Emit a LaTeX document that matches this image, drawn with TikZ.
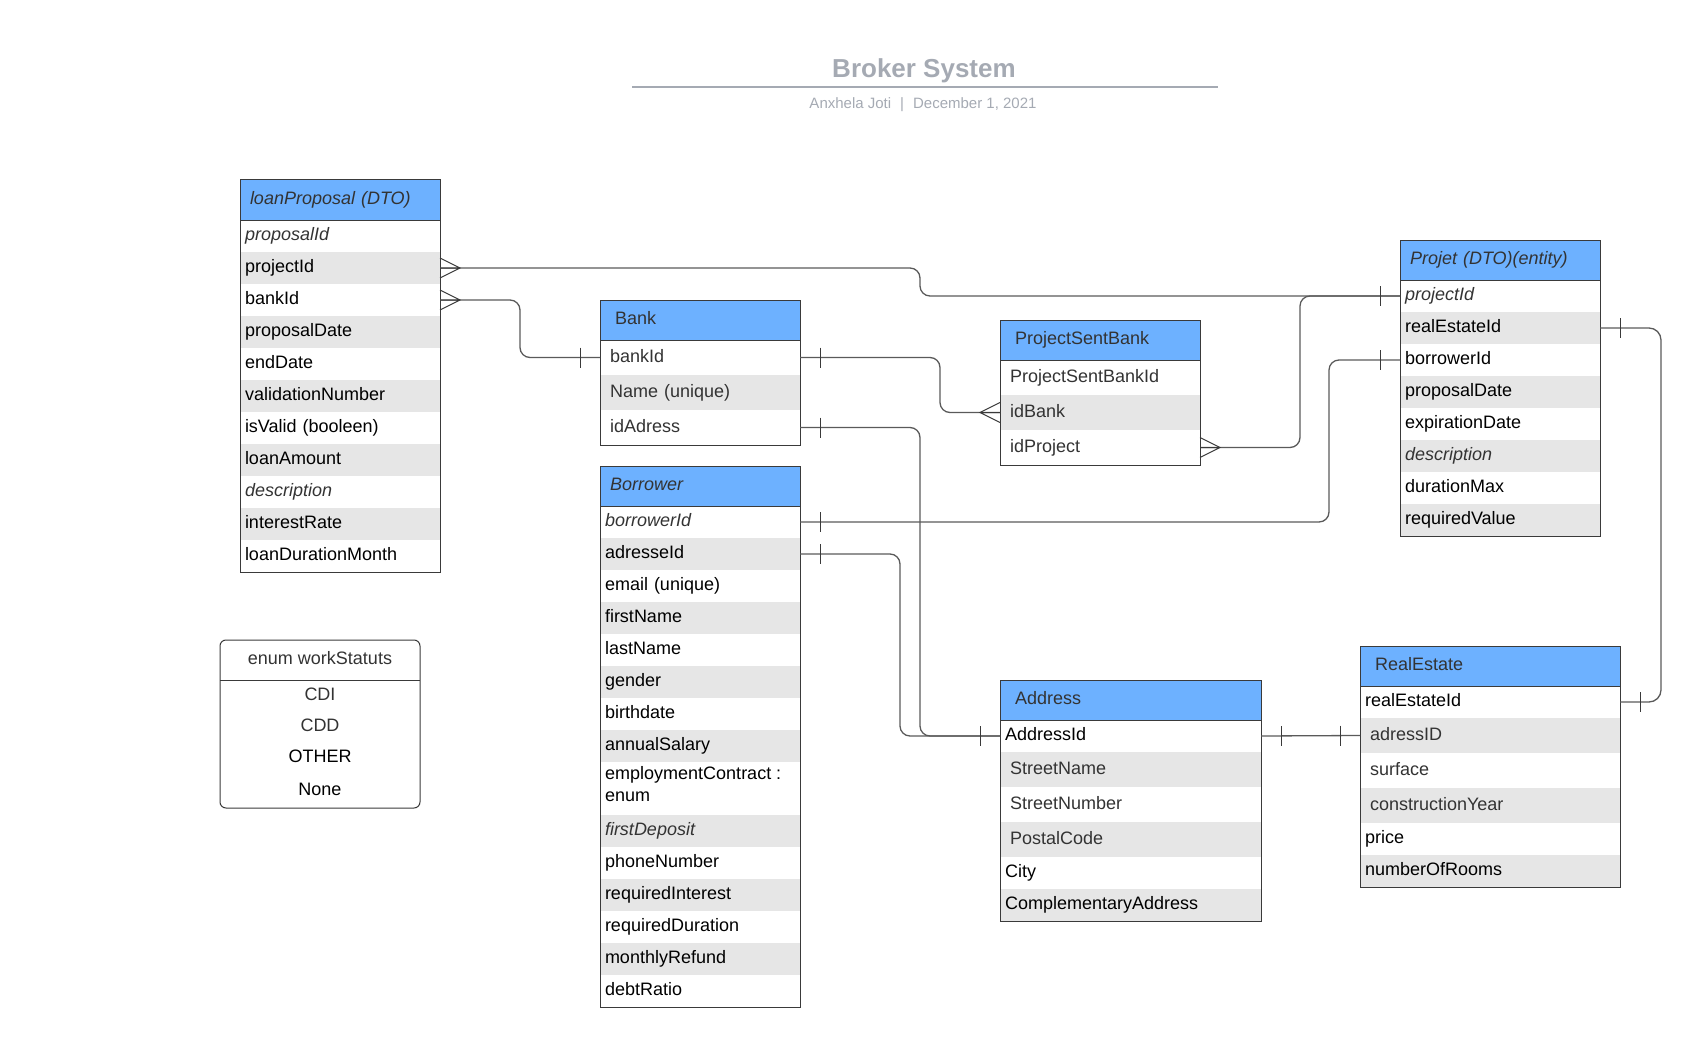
\documentclass[tikz,border=0pt]{standalone}
\usepackage{fontspec}
\setmainfont{Liberation Sans}
\usetikzlibrary{calc}
\definecolor{hblue}{HTML}{6DB1FF}
\definecolor{rowgrey}{HTML}{E6E6E6}
\definecolor{tdark}{HTML}{333333}
\definecolor{bcol}{HTML}{3A3A3A}
\definecolor{conncol}{HTML}{5A5A5A}
\definecolor{titlecol}{HTML}{A5AAB3}
\newcommand\rowfont{\fontsize{18}{21}\selectfont}
\newcommand\crowR[1]{\draw[tickline] ($(#1)+(0,-10)$) -- ($(#1)+(20,0)$) -- ($(#1)+(0,10)$) (#1) -- ($(#1)+(20,0)$);}
\newcommand\crowL[1]{\draw[tickline] ($(#1)+(0,-10)$) -- ($(#1)+(-20,0)$) -- ($(#1)+(0,10)$) (#1) -- ($(#1)+(-20,0)$);}
\newcommand\tickX[2]{\draw[tickline] ($(#1)+(#2,-10)$) -- ($(#1)+(#2,10)$);}
\begin{document}
\begin{tikzpicture}[x=1pt,y=-1pt,
  cellbase/.style={anchor=north west, inner ysep=0pt, outer sep=0pt, align=left, font=\rowfont, text=black},
  cell/.style={cellbase, text height=13pt, text depth=4pt},
  hd/.style={cell, fill=hblue, minimum height=40pt, text=tdark},
  r32/.style={cell, minimum height=32pt},
  r35/.style={cell, minimum height=35pt},
  gr/.style={fill=rowgrey},
  it/.style={font=\rowfont\itshape, text=tdark},
  dk/.style={text=tdark},
  wa/.style={text width=190pt, inner xsep=5pt},
  wb/.style={text width=180pt, inner xsep=10pt},
  wc/.style={text width=170pt, inner xsep=15pt},
  boxline/.style={draw=bcol, line width=1pt},
  conn/.style={draw=conncol, line width=1.3pt, rounded corners=10pt},
  tickline/.style={draw=bcol, line width=1pt},
  etext/.style={anchor=base, font=\rowfont, inner sep=0pt}
]
\useasboundingbox (0,0) rectangle (1701,1046);

% ---------- title ----------
\node[anchor=base, inner sep=0pt, font=\fontsize{26}{30}\selectfont\bfseries, text=titlecol] (title) at (924,77.7) {Broker System};
\draw[titlecol, line width=2pt] (632,87.5) -- (1218,87.5);
\node[anchor=base, inner sep=0pt, font=\fontsize{15}{18}\selectfont, text=titlecol] (subtitle) at (923,108.3) {Anxhela Joti\hspace{9pt}|\hspace{9pt}December 1, 2021};

% ---------- loanProposal ----------
\node[hd, wb] (lp0) at (240,180) {\itshape loanProposal (DTO)};
\node[r32, wa, it] (lp1) at (lp0.south west) {proposalId};
\node[r32, wa, gr] (lp2) at (lp1.south west) {projectId};
\node[r32, wa] (lp3) at (lp2.south west) {bankId};
\node[r32, wa, gr] (lp4) at (lp3.south west) {proposalDate};
\node[r32, wa] (lp5) at (lp4.south west) {endDate};
\node[r32, wa, gr] (lp6) at (lp5.south west) {validationNumber};
\node[r32, wa] (lp7) at (lp6.south west) {isValid (booleen)};
\node[r32, wa, gr] (lp8) at (lp7.south west) {loanAmount};
\node[r32, wa, it] (lp9) at (lp8.south west) {description};
\node[r32, wa, gr] (lp10) at (lp9.south west) {interestRate};
\node[r32, wa] (lp11) at (lp10.south west) {loanDurationMonth};
\draw[boxline] (lp0.north west) rectangle (lp11.south east);
\draw[boxline] (lp0.south west) -- (lp0.south east);

% ---------- Bank ----------
\node[hd, wc] (bk0) at (600,300) {Bank};
\node[r35, wb, dk] (bk1) at (bk0.south west) {bankId};
\node[r35, wb, dk, gr] (bk2) at (bk1.south west) {Name (unique)};
\node[r35, wb, dk] (bk3) at (bk2.south west) {idAdress};
\draw[boxline] (bk0.north west) rectangle (bk3.south east);
\draw[boxline] (bk0.south west) -- (bk0.south east);

% ---------- Borrower ----------
\node[hd, wb] (bw0) at (600,466) {\itshape Borrower};
\node[r32, wa, it] (bw1) at (bw0.south west) {borrowerId};
\node[r32, wa, gr] (bw2) at (bw1.south west) {adresseId};
\node[r32, wa] (bw3) at (bw2.south west) {email (unique)};
\node[r32, wa, gr] (bw4) at (bw3.south west) {firstName};
\node[r32, wa] (bw5) at (bw4.south west) {lastName};
\node[r32, wa, gr] (bw6) at (bw5.south west) {gender};
\node[r32, wa] (bw7) at (bw6.south west) {birthdate};
\node[r32, wa, gr] (bw8) at (bw7.south west) {annualSalary};
\node[cellbase, wa, minimum height=53pt] (bw9) at (bw8.south west) {};
\node[anchor=base west, inner sep=0pt, font=\rowfont] (bw9a) at ($(bw9.north west)+(5,17.6)$) {employmentContract :};
\node[anchor=base west, inner sep=0pt, font=\rowfont] (bw9b) at ($(bw9a.base west)+(0,21.4)$) {enum};
\node[r32, wa, it, gr] (bw10) at (bw9.south west) {firstDeposit};
\node[r32, wa] (bw11) at (bw10.south west) {phoneNumber};
\node[r32, wa, gr] (bw12) at (bw11.south west) {requiredInterest};
\node[r32, wa] (bw13) at (bw12.south west) {requiredDuration};
\node[r32, wa, gr] (bw14) at (bw13.south west) {monthlyRefund};
\node[r32, wa] (bw15) at (bw14.south west) {debtRatio};
\draw[boxline] (bw0.north west) rectangle (bw15.south east);
\draw[boxline] (bw0.south west) -- (bw0.south east);

% ---------- ProjectSentBank ----------
\node[hd, wc] (ps0) at (1000,320) {ProjectSentBank};
\node[r35, wb, dk] (ps1) at (ps0.south west) {ProjectSentBankId};
\node[r35, wb, dk, gr] (ps2) at (ps1.south west) {idBank};
\node[r35, wb, dk] (ps3) at (ps2.south west) {idProject};
\draw[boxline] (ps0.north west) rectangle (ps3.south east);
\draw[boxline] (ps0.south west) -- (ps0.south east);

% ---------- Projet ----------
\node[hd, wb] (pj0) at (1400,240) {\itshape Projet (DTO)(entity)};
\node[r32, wa, it] (pj1) at (pj0.south west) {projectId};
\node[r32, wa, gr] (pj2) at (pj1.south west) {realEstateId};
\node[r32, wa] (pj3) at (pj2.south west) {borrowerId};
\node[r32, wa, gr] (pj4) at (pj3.south west) {proposalDate};
\node[r32, wa] (pj5) at (pj4.south west) {expirationDate};
\node[r32, wa, it, gr] (pj6) at (pj5.south west) {description};
\node[r32, wa] (pj7) at (pj6.south west) {durationMax};
\node[r32, wa, gr] (pj8) at (pj7.south west) {requiredValue};
\draw[boxline] (pj0.north west) rectangle (pj8.south east);
\draw[boxline] (pj0.south west) -- (pj0.south east);

% ---------- Address ----------
\node[hd, text width=231pt, inner xsep=15pt] (ad0) at (1000,680) {Address};
\node[r32, text width=251pt, inner xsep=5pt] (ad1) at (ad0.south west) {AddressId};
\node[r35, dk, gr, text width=241pt, inner xsep=10pt] (ad2) at (ad1.south west) {StreetName};
\node[r35, dk, text width=241pt, inner xsep=10pt] (ad3) at (ad2.south west) {StreetNumber};
\node[r35, dk, gr, text width=241pt, inner xsep=10pt] (ad4) at (ad3.south west) {PostalCode};
\node[r32, text width=251pt, inner xsep=5pt] (ad5) at (ad4.south west) {City};
\node[r32, gr, text width=251pt, inner xsep=5pt] (ad6) at (ad5.south west) {ComplementaryAddress};
\draw[boxline] (ad0.north west) rectangle (ad6.south east);
\draw[boxline] (ad0.south west) -- (ad0.south east);

% ---------- RealEstate ----------
\node[hd, text width=230pt, inner xsep=15pt] (re0) at (1360,646) {RealEstate};
\node[r32, text width=250pt, inner xsep=5pt] (re1) at (re0.south west) {realEstateId};
\node[r35, dk, gr, text width=240pt, inner xsep=10pt] (re2) at (re1.south west) {adressID};
\node[r35, dk, text width=240pt, inner xsep=10pt] (re3) at (re2.south west) {surface};
\node[r35, dk, gr, text width=240pt, inner xsep=10pt] (re4) at (re3.south west) {constructionYear};
\node[r32, text width=250pt, inner xsep=5pt] (re5) at (re4.south west) {price};
\node[r32, gr, text width=250pt, inner xsep=5pt] (re6) at (re5.south west) {numberOfRooms};
\draw[boxline] (re0.north west) rectangle (re6.south east);
\draw[boxline] (re0.south west) -- (re0.south east);

% ---------- enum ----------
\node[draw=bcol, line width=1pt, rounded corners=6pt, minimum width=200pt, minimum height=168pt, anchor=north west, inner sep=0pt, outer sep=0pt] (en) at (220,640) {};
\draw[boxline] ($(en.north west)+(0,40)$) -- ($(en.north east)+(0,40)$);
\node[etext, text=tdark] (en0) at (320,664.5) {enum workStatuts};
\node[etext, text=tdark] (en1) at (320,700) {CDI};
\node[etext, text=tdark] (en2) at (320,731.5) {CDD};
\node[etext] (en3) at (320,762.7) {OTHER};
\node[etext] (en4) at (320,795) {None};

% ---------- connectors ----------
\coordinate (xa) at (920,0);
\coordinate (xb) at (520,0);
\coordinate (xc) at (940,0);
\coordinate (xd) at (920,0);
\coordinate (xe) at (900,0);
\coordinate (xf) at (1329,0);
\coordinate (xg) at (1300,0);
\coordinate (xh) at (1661,0);

% loanProposal.projectId -> Projet.projectId
\draw[conn] (lp2.east) -- (lp2.east -| xa) -- (pj1.west -| xa) -- (pj1.west);
\crowR{lp2.east}
% loanProposal.bankId -> Bank.bankId
\draw[conn] (lp3.east) -- (lp3.east -| xb) -- (bk1.west -| xb) -- (bk1.west);
\crowR{lp3.east}
\tickX{bk1.west}{-20}
% Bank.bankId -> ProjectSentBank.idBank
\draw[conn] (bk1.east) -- (bk1.east -| xc) -- (ps2.west -| xc) -- (ps2.west);
\tickX{bk1.east}{20}
\crowL{ps2.west}
% Bank.idAdress -> Address.AddressId
\draw[conn] (bk3.east) -- (bk3.east -| xd) -- (ad1.west -| xd) -- (ad1.west);
\tickX{bk3.east}{20}
% Borrower.adresseId -> Address.AddressId
\draw[conn] (bw2.east) -- (bw2.east -| xe) -- (ad1.west -| xe) -- (ad1.west);
\tickX{bw2.east}{20}
\tickX{ad1.west}{-20}
% Borrower.borrowerId -> Projet.borrowerId
\draw[conn] (bw1.east) -- (bw1.east -| xf) -- (pj3.west -| xf) -- (pj3.west);
\tickX{bw1.east}{20}
\tickX{pj3.west}{-20}
% ProjectSentBank.idProject -> Projet.projectId
\draw[conn] (ps3.east) -- (ps3.east -| xg) -- (pj1.west -| xg) -- (pj1.west);
\crowR{ps3.east}
\tickX{pj1.west}{-20}
% Address.AddressId -> RealEstate.adressID
\draw[conn] (ad1.east) -- (re2.west);
\tickX{ad1.east}{20}
\tickX{re2.west}{-20}
% Projet.realEstateId -> RealEstate.realEstateId
\draw[conn, rounded corners=12pt] (pj2.east) -- (pj2.east -| xh) -- (re1.east -| xh) -- (re1.east);
\tickX{pj2.east}{20}
\tickX{re1.east}{20}
\end{tikzpicture}
\end{document}
